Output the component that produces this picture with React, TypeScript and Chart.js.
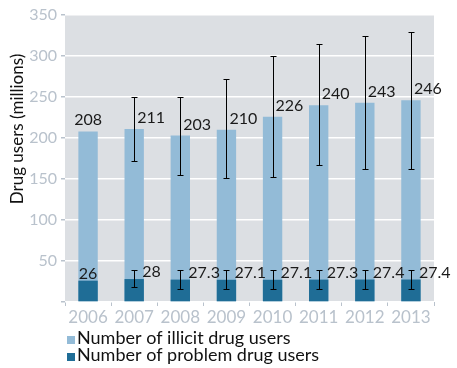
import React, { useEffect, useRef } from "react";
import { Chart, registerables } from "chart.js";

Chart.register(...registerables);

const years = ["2006", "2007", "2008", "2009", "2010", "2011", "2012", "2013"];
const illicitUsers = [208, 211, 203, 210, 226, 240, 243, 246];
const illicitLabels = ["208", "211", "203", "210", "226", "240", "243", "246"];
const illicitLow = [null, 172, 155, 151, 153, 167, 162, 162];
const illicitHigh = [null, 250, 250, 272, 300, 315, 324, 329];
const problemUsers = [26, 28, 27.3, 27.1, 27.1, 27.3, 27.4, 27.4];
const problemLabels = ["26", "28", "27.3", "27.1", "27.1", "27.3", "27.4", "27.4"];
const problemLow = [null, 18, 16, 16, 16, 16, 16, 16];
const problemHigh = [null, 39, 39, 39, 39, 39, 39, 39];
const yTicks = [0, 50, 100, 150, 200, 250, 300, 350];
const legendLabels = ["Number of illicit drug users", "Number of problem drug users"];
const yTitle = "Drug users (millions)";

const LIGHT = "#93bbd7";
const DARK = "#1f6d96";
const TICK = "#b9c2cc";
const FONT = "Lato, 'Open Sans', sans-serif";

export default function App() {
  const ref = useRef<HTMLCanvasElement | null>(null);

  useEffect(() => {
    document.body.style.margin = "0";
    const canvas = ref.current;
    if (!canvas) return;

    const extras = {
      id: "extras",
      beforeDraw(chart: any) {
        const { ctx, chartArea } = chart;
        ctx.save();
        ctx.fillStyle = "#dcdfe3";
        ctx.fillRect(chartArea.left, chartArea.top, chartArea.right - chartArea.left, chartArea.bottom - chartArea.top);
        ctx.restore();
      },
      afterDatasetsDraw(chart: any) {
        const { ctx } = chart;
        const yScale = chart.scales.y;
        const m0 = chart.getDatasetMeta(0);
        const m1 = chart.getDatasetMeta(1);
        ctx.save();
        ctx.strokeStyle = "#000";
        ctx.lineWidth = 1;
        const drawErr = (x: number, lo: number | null, hi: number | null) => {
          if (lo == null || hi == null) return;
          const y1 = Math.round(yScale.getPixelForValue(lo)) + 0.5;
          const y2 = Math.round(yScale.getPixelForValue(hi)) + 0.5;
          const xx = Math.round(x) + 0.5;
          ctx.beginPath();
          ctx.moveTo(xx, y1);
          ctx.lineTo(xx, y2);
          ctx.moveTo(xx - 3, y1);
          ctx.lineTo(xx + 3, y1);
          ctx.moveTo(xx - 3, y2);
          ctx.lineTo(xx + 3, y2);
          ctx.stroke();
        };
        years.forEach((_, i) => {
          const b = m0.data[i];
          drawErr(b.x, illicitLow[i], illicitHigh[i]);
          const p = m1.data[i];
          drawErr(p.x, problemLow[i], problemHigh[i]);
        });
        ctx.fillStyle = "#1a1a1a";
        ctx.font = `16px ${FONT}`;
        ctx.textBaseline = "alphabetic";
        years.forEach((_, i) => {
          const b = m0.data[i];
          const p = m1.data[i];
          if (illicitLow[i] == null) {
            ctx.textAlign = "center";
            ctx.fillText(illicitLabels[i], b.x, b.y - 6);
          } else {
            ctx.textAlign = "left";
            ctx.fillText(illicitLabels[i], b.x + 3, b.y - 6);
          }
          if (problemLow[i] == null) {
            ctx.textAlign = "center";
            ctx.fillText(problemLabels[i], p.x, p.y - 2);
          } else {
            ctx.textAlign = "left";
            ctx.fillText(problemLabels[i], p.x + 8, p.y - 2);
          }
        });
        ctx.restore();
      },
      afterDraw(chart: any) {
        const { ctx, chartArea } = chart;
        ctx.save();
        // y title
        ctx.fillStyle = "#111";
        ctx.font = `17px ${FONT}`;
        ctx.textAlign = "center";
        ctx.textBaseline = "middle";
        ctx.translate(18, 129);
        ctx.rotate(-Math.PI / 2);
        ctx.fillText(yTitle, 0, 0);
        ctx.restore();
        // legend
        ctx.save();
        ctx.font = `18px ${FONT}`;
        ctx.textAlign = "left";
        ctx.textBaseline = "alphabetic";
        const colors = [LIGHT, DARK];
        const baselines = [344, 361];
        legendLabels.forEach((t, i) => {
          ctx.fillStyle = colors[i];
          ctx.fillRect(chartArea.left + 2, baselines[i] - 8, 8, 8);
          ctx.fillStyle = "#111";
          ctx.fillText(t, chartArea.left + 12, baselines[i]);
        });
        ctx.restore();
      },
    };

    const chart = new Chart(canvas, {
      type: "bar",
      data: {
        labels: years,
        datasets: [
          {
            label: legendLabels[0],
            data: illicitUsers,
            backgroundColor: LIGHT,
            order: 1,
            barPercentage: 0.42,
            categoryPercentage: 1,
          },
          {
            label: legendLabels[1],
            data: problemUsers,
            backgroundColor: DARK,
            order: 0,
            barPercentage: 0.42,
            categoryPercentage: 1,
          },
        ],
      },
      options: {
        animation: false,
        responsive: true,
        maintainAspectRatio: false,
        layout: { padding: { left: 0, right: 23, top: 15, bottom: 36 } },
        plugins: { legend: { display: false }, tooltip: { enabled: false } },
        scales: {
          x: {
            stacked: true,
            afterFit: (s: any) => {
              s.height = 30;
            },
            border: { display: false },
            grid: {
              offset: true,
              drawOnChartArea: false,
              drawTicks: true,
              tickLength: 4,
              tickColor: TICK,
              color: TICK,
            },
            ticks: { color: TICK, font: { family: FONT, size: 17 }, padding: 1 },
          },
          y: {
            stacked: false,
            min: 0,
            max: 350,
            afterFit: (s: any) => {
              s.width = 65;
            },
            afterBuildTicks: (s: any) => {
              s.ticks = yTicks.map((v) => ({ value: v }));
            },
            border: { display: false },
            grid: {
              color: "#ffffff",
              lineWidth: 1.5,
              tickColor: TICK,
              tickLength: 4,
            },
            ticks: {
              color: TICK,
              font: { family: FONT, size: 16 },
              padding: 4,
              callback: (v: any) => (v === 0 ? "" : String(v)),
            },
          },
        },
      },
      plugins: [extras],
    });
    return () => chart.destroy();
  }, []);

  return (
    <div style={{ position: "relative", width: 457, height: 368 }}>
      <canvas ref={ref} />
    </div>
  );
}
